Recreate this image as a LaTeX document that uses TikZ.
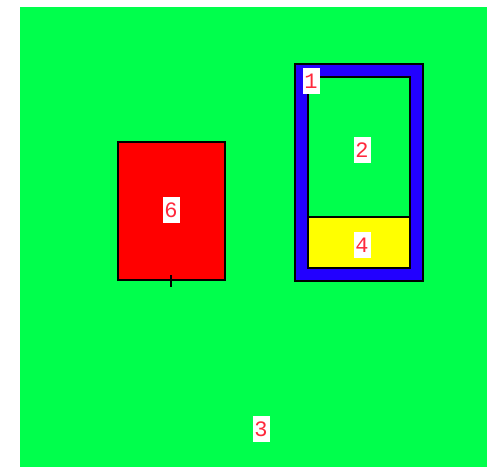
\documentclass[tikz,border=0pt]{standalone}
\usepackage{fontspec}
\setmonofont{Liberation Mono}
\usepackage{tikz}
\definecolor{bggreen}{RGB}{0,255,76}
\definecolor{wallblue}{RGB}{34,0,255}
\definecolor{boxred}{RGB}{255,0,0}
\definecolor{boxyellow}{RGB}{255,255,0}
\definecolor{txtred}{RGB}{255,40,60}
\tikzstyle{region}=[draw=black, line width=1.3pt]
\tikzstyle{tag}=[rectangle, fill=white, inner sep=1pt, minimum width=17pt, minimum height=26pt, text=txtred, font=\ttfamily\fontsize{22}{22}\selectfont]
\tikzstyle{tick}=[line width=1.3pt]

\begin{document}
\begin{tikzpicture}[x=1pt,y=-1pt]
				\useasboundingbox (0,0) rectangle (487,467);
				\fill[bggreen] (20,7) rectangle (487,467);
				
				% outer frame with two rooms
				\fill[wallblue,region] (295,64) rectangle (423,281);
				\fill[bggreen,region] (308,77) rectangle (410,217);
				\fill[boxyellow,region] (308,217) rectangle (410,268);
				
				% red block
				\fill[boxred,region] (118,142) rectangle (225,280);
				\coordinate (t1) at (171,275);
				\coordinate (t2) at (171,287);
				\draw[tick] (t1) -- (t2);
				
                \node[tag] (L1) at (311,81) {1};
                \node[tag] (L2) at (362,150) {2};
                \node[tag] (L4) at (362,245) {4};
                \node[tag] (L6) at (171,210) {6};
                \node[tag] (L3) at (261,429) {3};
			\end{tikzpicture}
\end{document}
